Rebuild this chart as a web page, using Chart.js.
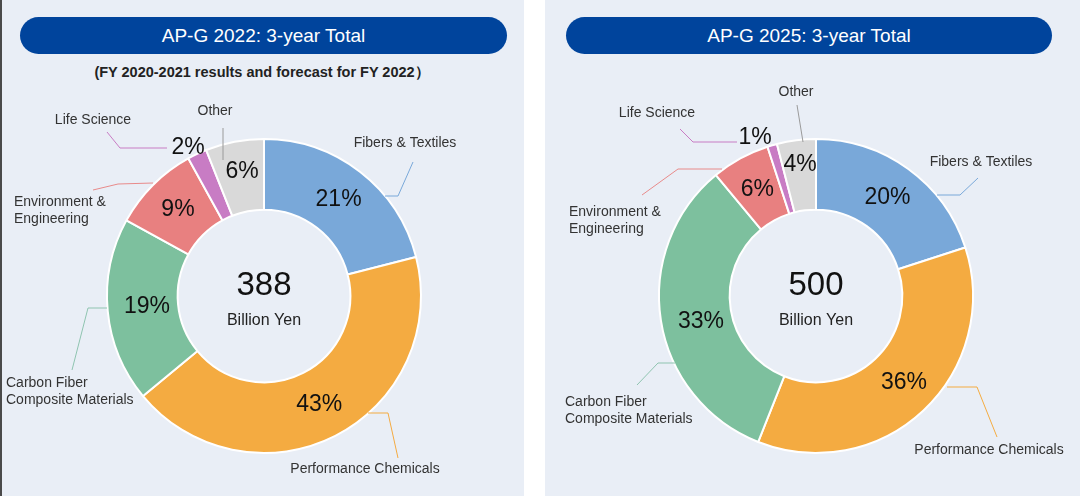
<!DOCTYPE html>
<html>
<head>
<meta charset="utf-8">
<script src="https://cdn.jsdelivr.net/npm/chart.js@4.4.1/dist/chart.umd.min.js"></script>
<style>
  html, body { margin:0; padding:0; background:#ffffff; width:1080px; height:496px; overflow:hidden; font-family:"Liberation Sans", Arial, sans-serif; }
  .panel { position:absolute; top:0; height:496px; background:#e9eef6; box-sizing:border-box; }
  .pill { position:absolute; top:17px; height:37px; border-radius:19px; background:#00449c; color:#fff; font-size:19px; line-height:37px; text-align:center; }
  .sub { position:absolute; top:63px; left:0; width:524px; text-align:center; font-size:14.5px; font-weight:bold; color:#222; }
  .wrap { position:absolute; top:0; height:496px; }
</style>
</head>
<body>
<div class="panel" style="left:0;width:524px;border-left:2px solid #4a4a4a;"></div>
<div class="panel" style="left:545px;width:535px;"></div>
<div class="pill" style="left:20px;width:487px;">AP-G 2022: 3-year Total</div>
<div class="pill" style="left:566px;width:486px;">AP-G 2025: 3-year Total</div>
<div class="sub">(FY 2020-2021 results and forecast for FY 2022）</div>
<div class="wrap" style="left:0;width:524px;"><canvas id="c1" width="524" height="496"></canvas></div>
<div class="wrap" style="left:545px;width:535px;"><canvas id="c2" width="535" height="496"></canvas></div>
<script>
// ---------- data ----------
const categories = ['Fibers & Textiles', 'Performance Chemicals', 'Carbon Fiber Composite Materials', 'Environment & Engineering', 'Life Science', 'Other'];
const categoryLines = [['Fibers & Textiles'], ['Performance Chemicals'], ['Carbon Fiber', 'Composite Materials'], ['Environment &', 'Engineering'], ['Life Science'], ['Other']];
const values2022 = [21, 43, 19, 9, 2, 6];
const values2025 = [20, 36, 33, 6, 1, 4];
const total2022 = '388';
const total2025 = '500';
const totalUnit = 'Billion Yen';

// ---------- styles ----------
const colors = ['#79a8d9', '#f4ab41', '#7dc09e', '#e88080', '#c87cc4', '#d9d9d9'];
const lineColors = ['#79a8d9', '#f4ab41', '#8fc4b0', '#e88a8a', '#c87cc4', '#9a9a9a'];

// callout layout (offsets relative to the doughnut centre)
const layout2022 = {
  lines: [
    [[121,-100],[134,-100],[149,-134]],
    [[104,117],[124,117],[134,162]],
    [[-157,12],[-176,12],[-192,74]],
    [[-111,-113],[-146,-112],[-171,-106]],
    [[-97,-148],[-144,-148],[-157,-164]],
    [[-41,-168],[-41,-136]]
  ],
  labels: [
    {x:141, y:-153, align:'center'},
    {x:101, y:173, align:'center'},
    {x:-258, y:87, align:'left'},
    {x:-250, y:-94, align:'left'},
    {x:-171, y:-176, align:'center'},
    {x:-49, y:-185, align:'center'}
  ],
  pct: [null, null, [-117, 11], null, [-76, -148], [-22, -124]]
};
const layout2025 = {
  lines: [
    [[121,-101],[144,-101],[162,-118]],
    [[131,91],[161,91],[181,141]],
    [[-141,67],[-158,67],[-179,89]],
    [[-94,-127],[-138,-127],[-174,-101]],
    [[-79,-154],[-123,-154],[-136,-167]],
    [[-19,-191],[-13,-154]]
  ],
  labels: [
    {x:165, y:-134, align:'center'},
    {x:173, y:154, align:'center'},
    {x:-251, y:106, align:'left'},
    {x:-247, y:-84, align:'left'},
    {x:-159, y:-183, align:'center'},
    {x:-20, y:-204, align:'center'}
  ],
  pct: [null, [88, 87], [-115, 26], null, [-61, -158], [-16, -131]]
};

const FONT = '"Liberation Sans", Arial, sans-serif';

const annotate = {
  id: 'annotate',
  afterDatasetsDraw(chart, args, opts) {
    const ctx = chart.ctx;
    const meta = chart.getDatasetMeta(0);
    const data = chart.data.datasets[0].data;
    const sum = data.reduce((a, b) => a + b, 0);
    const L = opts.layout;
    const cx = meta.data[0].x, cy = meta.data[0].y;
    ctx.save();
    // leader lines
    L.lines.forEach((pts, i) => {
      ctx.beginPath();
      ctx.strokeStyle = lineColors[i];
      ctx.lineWidth = 1;
      pts.forEach((p, j) => { if (j === 0) ctx.moveTo(cx + p[0], cy + p[1]); else ctx.lineTo(cx + p[0], cy + p[1]); });
      ctx.stroke();
    });
    // category labels
    ctx.fillStyle = '#333';
    ctx.font = '14px ' + FONT;
    ctx.textBaseline = 'middle';
    L.labels.forEach((lb, i) => {
      ctx.textAlign = lb.align;
      categoryLines[i].forEach((t, k) => ctx.fillText(t, cx + lb.x, cy + lb.y + k * 17));
    });
    // percent labels
    ctx.fillStyle = '#111';
    ctx.font = '23px ' + FONT;
    ctx.textAlign = 'center';
    meta.data.forEach((arc, i) => {
      const p = arc.getProps(['startAngle', 'endAngle', 'innerRadius', 'outerRadius', 'x', 'y'], true);
      let x, y;
      if (L.pct[i]) { x = cx + L.pct[i][0]; y = cy + L.pct[i][1]; }
      else {
        const mid = (p.startAngle + p.endAngle) / 2;
        const r = (p.innerRadius + p.outerRadius) / 2;
        x = p.x + Math.cos(mid) * r; y = p.y + Math.sin(mid) * r;
      }
      ctx.fillText(Math.round(data[i] / sum * 100) + '%', x, y);
    });
    // centre text
    ctx.textBaseline = 'alphabetic';
    ctx.fillStyle = '#111';
    ctx.font = '33px ' + FONT;
    ctx.fillText(opts.total, cx, cy - 1);
    ctx.font = '16px ' + FONT;
    ctx.fillStyle = '#222';
    ctx.fillText(totalUnit, cx, cy + 29);
    ctx.restore();
  }
};

function makeChart(id, values, total, layout, padLeft) {
  return new Chart(document.getElementById(id), {
    type: 'doughnut',
    data: {
      labels: categories,
      datasets: [{ data: values, backgroundColor: colors, borderColor: '#ffffff', borderWidth: 2 }]
    },
    options: {
      responsive: false,
      animation: false,
      events: [],
      radius: 157,
      cutout: '55%',
      layout: { padding: { left: padLeft, right: 0, top: 96, bottom: 0 } },
      plugins: {
        legend: { display: false },
        tooltip: { enabled: false },
        annotate: { layout: layout, total: total }
      }
    },
    plugins: [annotate]
  });
}
makeChart('c1', values2022, total2022, layout2022, 4);
makeChart('c2', values2025, total2025, layout2025, 7);
</script>
</body>
</html>
